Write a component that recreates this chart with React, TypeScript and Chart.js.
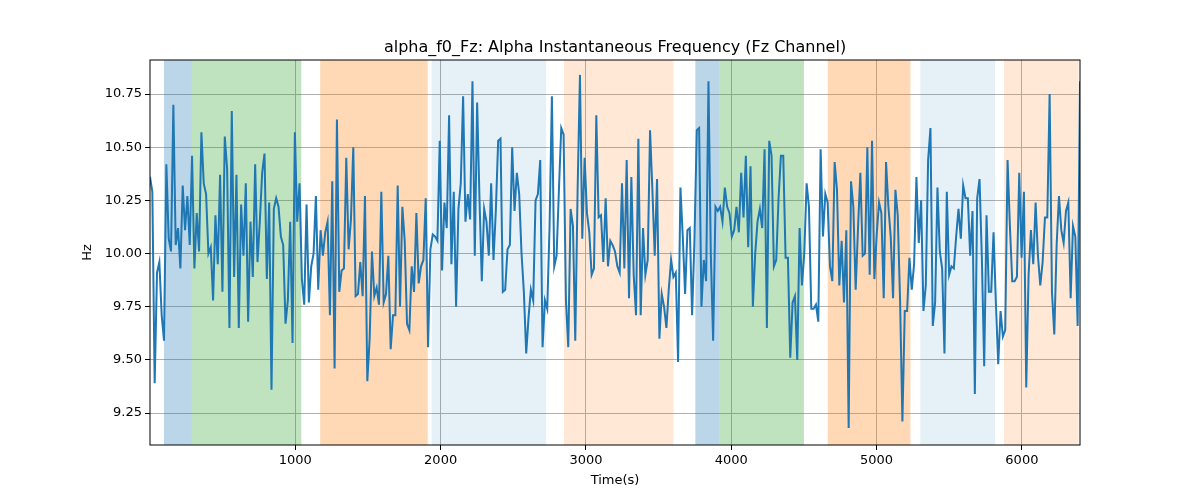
import React, { useEffect, useRef } from "react";
import { Chart, registerables } from "chart.js";
Chart.register(...registerables);

const TITLE = "alpha_f0_Fz: Alpha Instantaneous Frequency (Fz Channel)";
const X_LABEL = "Time(s)";
const Y_LABEL = "Hz";
const X_TICKS = [1000, 2000, 3000, 4000, 5000, 6000];
const Y_TICKS = [9.25, 9.5, 9.75, 10.0, 10.25, 10.5, 10.75];
const T_START = 0;
const T_END = 6400;

const seg1 = [10.36,10.29,9.39,9.91,9.96,9.71,9.59,10.42,10.07,10.01,10.70,10.04,10.12,9.93,10.32,10.11,10.27,10.04,10.46,9.93,10.19,10.01,10.57,10.33,10.28,10.0,10.03,9.78,10.18,9.95,10.37,9.82,10.55,10.40,9.65,10.67,9.89,10.37,9.65,10.23,9.99,10.33,9.68,10.15,9.89,10.42,9.96,10.15,10.38,10.47,9.88,10.24];
const seg2 = [9.36,10.21,10.26,10.22,10.08,10.04,9.67,9.78,10.15,9.58,10.57,10.15,10.33,9.88,9.76,10.23,9.77,9.94,10.0,10.27,9.83,10.11,9.99,10.10,10.15,9.71,10.34,9.46,10.63,9.82,9.92,9.93,10.45,10.02,10.16,10.50,9.80,9.81,9.96,9.80,10.27,9.40,9.60,10.01,9.80,9.84,9.76,10.29,9.77,9.81,9.99,9.55,9.71,9.71,10.32,9.75,10.22,10.06,9.67,9.64,9.94,9.82,10.19,9.86,9.94,9.97,10.26,9.56];
const seg3 = [10.02,10.09,10.08,10.06,10.53,9.92,10.24,10.12,10.65,9.95,10.29,9.75,10.21,10.33,10.74,10.15,10.28,10.16,10.81,9.99,10.71,10.26,9.87,10.21,10.15,9.99,10.33,9.97,10.20,10.53,10.54,9.82,9.83,10.02,10.04,10.50,10.20,10.38,10.28,10.0,9.82,9.53,9.70,9.83,9.78,10.25,10.28,10.44,9.56,9.78,9.74,10.13,10.74,9.94,9.99,10.30,10.59,10.56,9.78,9.56,10.21,10.13,9.59,10.30,10.84,10.07,10.45,10.19,10.10,9.90];
const seg4 = [9.93,10.65,10.17,10.18,9.96,10.26,9.94,10.06,10.04,10.01,9.94,9.91,10.33,9.93,10.44,9.79,10.36,9.90,9.71,10.54,9.71,10.12,9.90,9.97,10.58,10.30,9.99,10.35,9.60,9.81,9.75,9.65,9.83,9.97,9.89,9.91,9.49,10.31,10.08,9.81,10.11,10.12,9.71,10.06,10.58,10.59,9.75,9.97,9.87,10.81,10.0,9.59,10.22,10.20,10.22,10.15,10.31,10.22,10.19,10.08,10.11,10.22,10.10,10.38,10.17,10.46];
const seg5 = [10.03,10.41,9.75,10.0,10.15,10.21,10.12,10.49,9.65,10.53,10.46,9.94,9.97,10.26,10.46,10.46,9.98,9.98,9.51,9.77,9.80,9.50,10.12,9.85,10.0,10.33,10.22,9.74,9.74,9.76,9.68,10.49,10.08,10.28,10.24,9.94,9.87,10.43,10.30,9.85,10.06,9.77,10.11,9.18,10.34,10.22,9.83,10.12,10.38,9.99,10.0,10.50,9.90,10.53,9.88,10.09,10.24,10.19,9.79,10.43,10.22,10.08,9.79,10.30,10.18,9.78,9.21,9.73,9.73];
const seg6 = [9.98,9.83,9.95,10.36,10.05,10.25,9.73,9.85,10.44,10.59,9.66,9.77,10.31,10.01,9.93,9.53,10.29,9.90,9.94,9.93,10.08,10.21,10.07,10.32,10.26,10.26,9.99,10.20,9.34,10.26,10.35,9.98,9.47,10.18,9.82,9.82,10.10,9.77,9.48,9.73,9.61,9.64,10.44,10.13,9.87,9.87,9.89,10.38,9.98,10.29,9.37,9.90,10.11,9.95,10.24,9.99,9.85,9.96,10.17,10.17,10.75,9.82,9.62,10.04,10.27,10.11,10.05,10.20,10.24,9.79,10.13,10.08,9.66,10.81];
const VALUES = [...seg1, ...seg2, ...seg3, ...seg4, ...seg5, ...seg6];

const SPAN_START = [96, 288, 1171, 1938, 2849, 3753, 3918, 4664, 5301, 5877];
const SPAN_END = [288, 1041, 1911, 2726, 3603, 3918, 4500, 5233, 5815, 6390];
const SPAN_COLOR = [
  "rgba(31,119,180,0.3)", "rgba(44,160,44,0.3)", "rgba(255,127,14,0.3)", "rgba(31,119,180,0.11)", "rgba(255,127,14,0.17)",
  "rgba(31,119,180,0.3)", "rgba(44,160,44,0.3)", "rgba(255,127,14,0.3)", "rgba(31,119,180,0.11)", "rgba(255,127,14,0.17)",
];

const FONT = "'DejaVu Sans', sans-serif";

export default function App() {
  const ref = useRef<HTMLCanvasElement>(null);
  useEffect(() => {
    const n = VALUES.length;
    const pts = VALUES.map((v, i) => ({ x: T_START + ((T_END - T_START) * i) / (n - 1), y: v }));
    const spans = {
      id: "spans",
      beforeDatasetsDraw(chart: any) {
        const { ctx, chartArea, scales } = chart;
        ctx.save();
        ctx.beginPath();
        ctx.rect(chartArea.left, chartArea.top, chartArea.right - chartArea.left, chartArea.bottom - chartArea.top);
        ctx.clip();
        SPAN_START.forEach((s, i) => {
          const a = scales.x.getPixelForValue(s);
          const b = scales.x.getPixelForValue(SPAN_END[i]);
          ctx.fillStyle = SPAN_COLOR[i];
          ctx.fillRect(a, chartArea.top, b - a, chartArea.bottom - chartArea.top);
        });
        ctx.restore();
      },
      afterDraw(chart: any) {
        const { ctx, chartArea } = chart;
        ctx.save();
        ctx.strokeStyle = "#000";
        ctx.lineWidth = 1;
        ctx.strokeRect(chartArea.left, chartArea.top, chartArea.right - chartArea.left, chartArea.bottom - chartArea.top);
        ctx.fillStyle = "#000";
        ctx.font = `16px ${FONT}`;
        ctx.textAlign = "center";
        ctx.textBaseline = "alphabetic";
        const cx = (chartArea.left + chartArea.right) / 2;
        ctx.fillText(TITLE, cx, 52);
        ctx.font = `13px ${FONT}`;
        ctx.textBaseline = "middle";
        ctx.fillText(X_LABEL, cx, 481);
        ctx.translate(88, (chartArea.top + chartArea.bottom) / 2);
        ctx.rotate(-Math.PI / 2);
        ctx.fillText(Y_LABEL, 0, 0);
        ctx.restore();
      },
    };
    const chart = new Chart(ref.current!, {
      type: "line",
      data: {
        datasets: [{ data: pts, borderColor: "#1f77b4", borderWidth: 2, pointRadius: 0, tension: 0, fill: false }],
      },
      options: {
        animation: false,
        responsive: false,
        events: [],
        layout: { padding: { left: 0, right: 120, top: 60, bottom: 0 } },
        plugins: { legend: { display: false }, tooltip: { enabled: false }, title: { display: false } },
        scales: {
          x: {
            type: "linear",
            min: 0,
            max: 6400,
            afterBuildTicks: (s: any) => { s.ticks = X_TICKS.map((v) => ({ value: v })); },
            afterFit: (s: any) => { s.height = 55; },
            grid: { color: "#b0b0b0", tickLength: 5, tickColor: "#000", drawTicks: true },
            border: { display: false },
            ticks: { color: "#000", font: { family: FONT, size: 13 }, padding: 3, maxRotation: 0, callback: (v: any) => String(v) },
          },
          y: {
            type: "linear",
            min: 9.1,
            max: 10.91,
            afterBuildTicks: (s: any) => { s.ticks = Y_TICKS.map((v) => ({ value: v })); },
            afterFit: (s: any) => { s.width = 150; },
            grid: { color: "#b0b0b0", tickLength: 5, tickColor: "#000" },
            border: { display: false },
            ticks: { color: "#000", font: { family: FONT, size: 13 }, padding: 3, callback: (v: any) => Number(v).toFixed(2) },
          },
        },
      },
      plugins: [spans],
    });
    return () => chart.destroy();
  }, []);
  return (
    <div style={{ position: "fixed", left: 0, top: 0, width: 1200, height: 500, background: "#fff" }}>
      <canvas ref={ref} width={1200} height={500} style={{ width: 1200, height: 500 }} />
    </div>
  );
}
